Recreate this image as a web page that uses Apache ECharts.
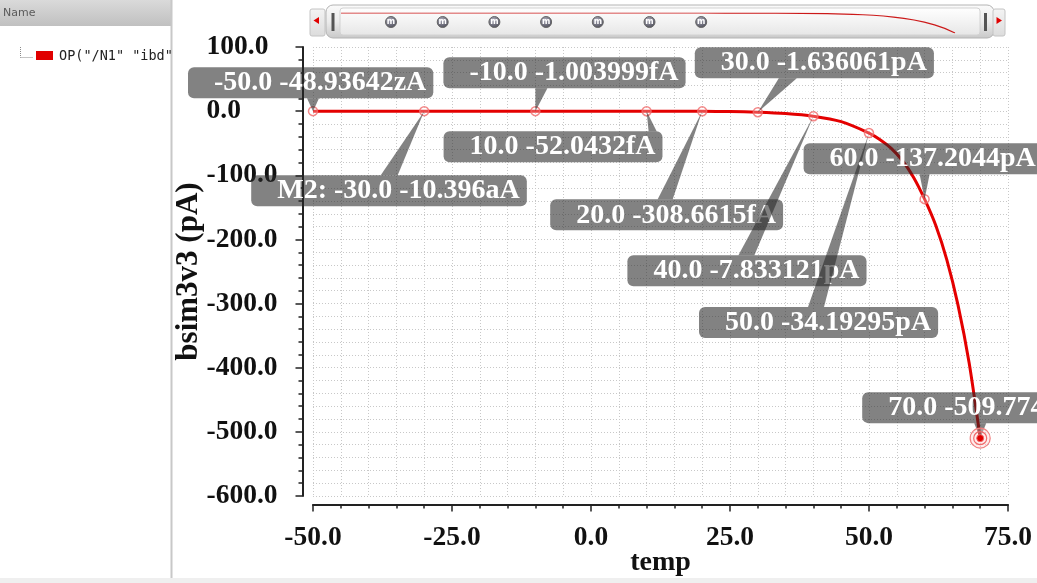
<!DOCTYPE html>
<html>
<head>
<meta charset="utf-8">
<script src="https://cdn.jsdelivr.net/npm/echarts@6.0.0/dist/echarts.min.js"></script>
<style>
html,body{margin:0;padding:0;background:#fff;}
#chart{width:1037px;height:583px;}
</style>
</head>
<body>
<div id="chart"></div>
<script>
// ---- data (temp in degC, current in pA) ----
const sweepTemps  = [-50,-40,-30,-20,-10,0,10,20,25,30,35,40,45,50,52,54,56,58,60,62,64,66,68,70];
const sweepValues = [-4.9e-8,-7e-7,-1.04e-5,-1.1e-4,-1.004e-3,-8e-3,-0.052,-0.309,-0.72,-1.636,-3.6,-7.833,-16.4,-34.19,-44.5,-58,-77,-103,-137.2,-178,-232,-302,-392,-509.77];

const markerTemps  = [-50,-30,-10,10,20,30,40,50,60,70];
const markerValues = [-4.893642e-8,-1.0396e-5,-1.003999e-3,-0.0520432,-0.3086615,-1.636061,-7.833121,-34.19295,-137.2044,-509.774];
const markerTexts  = ["-50.0 -48.93642zA","M2: -30.0 -10.396aA","-10.0 -1.003999fA","10.0 -52.0432fA","20.0 -308.6615fA","30.0 -1.636061pA","40.0 -7.833121pA","50.0 -34.19295pA","60.0 -137.2044pA","70.0 -509.774"];

const xTickLabels = ["-50.0","-25.0","0.0","25.0","50.0","75.0"];
const yTickLabels = ["-600.0","-500.0","-400.0","-300.0","-200.0","-100.0","0.0","100.0"];
const legendName = 'OP("/N1" "ibd"';
const xName = "temp";
const yName = "bsim3v3 (pA)";

// ---- label layout (pixel offsets of each callout box relative to its point) ----
const calloutLayout = [
  {dx:-125, dy:-44, edge:'bottom', bx:0,   bw:12},
  {dx:-173, dy:64,  edge:'top',    bx:-35, bw:17},
  {dx:-92,  dy:-54, edge:'bottom', bx:6,   bw:12},
  {dx:-203, dy:20,  edge:'top',    bx:6,   bw:8},
  {dx:-152, dy:88,  edge:'top',    bx:-37, bw:15},
  {dx:-63,  dy:-65, edge:'bottom', bx:30,  bw:18},
  {dx:-186, dy:139, edge:'top',    bx:-67, bw:16},
  {dx:-170, dy:174, edge:'top',    bx:-53, bw:16},
  {dx:-121, dy:-56, edge:'bottom', bx:0,   bw:10},
  {dx:-118, dy:-46, edge:'bottom', bx:0,   bw:12}
];

const SERIF = '"Liberation Serif","Times New Roman",serif';
const BOX = 'rgba(40,40,40,0.58)';
const BOXH = 31;

const chart = echarts.init(document.getElementById('chart'), null, {renderer:'canvas'});

const grad = (stops) => new echarts.graphic.LinearGradient(0,0,0,1, stops.map((c,i)=>({offset:i/(stops.length-1), color:c})));

const graphics = [
  // left panel
  {type:'rect', shape:{x:0,y:0,width:171,height:26}, style:{fill:grad(['#dadada','#c0c0c0'])}, silent:true},
  {type:'text', x:3, y:13, style:{text:'Name', font:'11px "DejaVu Sans"', fill:'#5a5a5a', verticalAlign:'middle'}, silent:true},
  {type:'line', shape:{x1:171.5,y1:0,x2:171.5,y2:578}, style:{stroke:'#c8c8c8', lineWidth:2}, silent:true},
  {type:'line', shape:{x1:20.5,y1:47,x2:20.5,y2:57.5}, style:{stroke:'#8a8a8a', lineWidth:1, lineDash:[1,1]}, silent:true},
  {type:'line', shape:{x1:20.5,y1:57.5,x2:33,y2:57.5}, style:{stroke:'#8a8a8a', lineWidth:1, lineDash:[1,1]}, silent:true},
  {type:'rect', shape:{x:36,y:51,width:17,height:9}, style:{fill:'#e00000'}, silent:true},
  {type:'text', x:59, y:56, style:{text:legendName, font:'13.5px "DejaVu Sans Mono"', fill:'#222', verticalAlign:'middle'}, silent:true},
  // bottom strip
  {type:'rect', shape:{x:0,y:578,width:1037,height:5}, style:{fill:'#efefef'}, silent:true},
  // slider
  {type:'rect', shape:{x:310,y:9,width:15,height:27,r:2}, style:{fill:grad(['#f4f4f4','#dcdcdc']), stroke:'#c4c4c4'}, silent:true},
  {type:'polygon', shape:{points:[[313.5,20.5],[319,17],[319,24]]}, style:{fill:'#e00000'}, silent:true},
  {type:'rect', shape:{x:326,y:5,width:668,height:33,r:7}, style:{fill:grad(['#fbfbfb','#ececec','#c8c8c8']), stroke:'#b4b4b4'}, silent:true},
  {type:'rect', shape:{x:340,y:8,width:640,height:27,r:3}, style:{fill:grad(['#ffffff','#f3f3f3','#e6e6e6']), stroke:'#d2d2d2'}, silent:true},
  {type:'rect', shape:{x:331.5,y:13,width:3,height:18}, style:{fill:'#555'}, silent:true},
  {type:'rect', shape:{x:984,y:13,width:3,height:18}, style:{fill:'#555'}, silent:true},
  {type:'rect', shape:{x:993,y:9,width:12,height:27,r:2}, style:{fill:grad(['#f4f4f4','#dcdcdc']), stroke:'#c4c4c4'}, silent:true},
  {type:'polygon', shape:{points:[[1002,20.5],[996.5,17],[996.5,24]]}, style:{fill:'#e00000'}, silent:true}
];
for (let k = 0; k < 7; k++) {
  const cx = 391 + 51.7 * k;
  graphics.push({type:'circle', shape:{cx:cx, cy:22, r:5.5}, style:{fill:new echarts.graphic.RadialGradient(0.4,0.3,0.8,[{offset:0,color:'#a8a8b8'},{offset:1,color:'#44444f'}]), stroke:'#666'}, silent:true});
  graphics.push({type:'text', x:cx, y:21.5, style:{text:'m', font:'bold 8px "DejaVu Sans"', fill:'#fff', align:'center', verticalAlign:'middle'}, silent:true});
}

const gridLineStyle = {color:'#c8c8c8', type:[1,2], width:1};
const axisColor = '#222';

const option = {
  animation:false,
  backgroundColor:'#fff',
  graphic: graphics,
  grid: [
    {left:313, top:47, width:695, height:449, containLabel:false, outerBoundsMode:'none'},
    {left:341, top:13, width:614, height:20, containLabel:false, outerBoundsMode:'none'}
  ],
  xAxis: [
    {
      type:'value', gridIndex:0, min:-50, max:75, interval:25, offset:8.5,
      name:xName, nameLocation:'middle', nameGap:44, nameMoveOverlap:false,
      nameTextStyle:{fontFamily:SERIF, fontWeight:'bold', fontSize:28, color:'#111'},
      axisLine:{show:true, onZero:false, lineStyle:{color:axisColor, width:2}},
      axisTick:{show:true, length:7, lineStyle:{color:axisColor, width:1.5}},
      minorTick:{show:true, splitNumber:5, length:4, lineStyle:{color:axisColor, width:1.5}},
      axisLabel:{margin:19, fontFamily:SERIF, fontWeight:'bold', fontSize:27.5, color:'#111',
        formatter:(v)=>xTickLabels[Math.round((v+50)/25)]},
      splitLine:{show:true, lineStyle:gridLineStyle},
      minorSplitLine:{show:true, lineStyle:gridLineStyle}
    },
    {type:'value', gridIndex:1, min:-50, max:70, show:false}
  ],
  yAxis: [
    {
      type:'value', gridIndex:0, min:-600, max:100, interval:100, offset:10.5,
      name:yName, nameLocation:'middle', nameGap:98, nameMoveOverlap:false,
      nameTextStyle:{fontFamily:SERIF, fontWeight:'bold', fontSize:31, color:'#111'},
      axisLine:{show:true, onZero:false, lineStyle:{color:axisColor, width:2}},
      axisTick:{show:true, length:7, lineStyle:{color:axisColor, width:1.5}},
      minorTick:{show:true, splitNumber:5, length:4, lineStyle:{color:axisColor, width:1.5}},
      axisLabel:{margin:96, align:'left', fontFamily:SERIF, fontWeight:'bold', fontSize:27.5, color:'#111',
        formatter:(v)=>yTickLabels[Math.round((v+600)/100)]},
      splitLine:{show:true, lineStyle:gridLineStyle},
      minorSplitLine:{show:true, lineStyle:gridLineStyle}
    },
    {type:'value', gridIndex:1, min:-510, max:0, show:false}
  ],
  series: [
    {
      type:'line', xAxisIndex:0, yAxisIndex:0, z:3,
      data: sweepTemps.map((t,i)=>[t, sweepValues[i]]),
      showSymbol:false, symbol:'none', smooth:0.25,
      lineStyle:{color:'#e40000', width:3}, silent:true
    },
    {
      type:'line', xAxisIndex:1, yAxisIndex:1, z:3,
      data: sweepTemps.map((t,i)=>[t, sweepValues[i]]),
      showSymbol:false, symbol:'none',
      lineStyle:{color:'#cc1a1a', width:1.2}, silent:true
    },
    {
      type:'scatter', xAxisIndex:0, yAxisIndex:0, z:4,
      data: markerTemps.slice(0,9).map((t,i)=>[t, markerValues[i]]),
      symbol:'circle', symbolSize:9,
      itemStyle:{color:'rgba(255,255,255,0.35)', borderColor:'#f06a6a', borderWidth:1.5}, silent:true
    },
    {
      type:'custom', xAxisIndex:0, yAxisIndex:0, z:5, clip:false, silent:true,
      data: markerTemps.map((t,i)=>[t, markerValues[i]]),
      renderItem: function(params, api) {
        const i = params.dataIndex;
        const p = api.coord([api.value(0), api.value(1)]);
        const L = calloutLayout[i];
        const bx0 = p[0] + L.dx, by0 = p[1] + L.dy;
        const baseY = L.edge === 'top' ? by0 : by0 + BOXH;
        const cx = p[0] + L.bx;
        const children = [
          {type:'polygon', shape:{points:[[cx - L.bw/2, baseY],[cx + L.bw/2, baseY],[p[0], p[1]]]}, style:{fill:BOX}},
          {type:'text', x:bx0, y:by0, style:{
            text: markerTexts[i], font:'bold 28px ' + SERIF, fill:'#fff',
            backgroundColor:BOX, borderRadius:6, padding:[1,7,0,26], lineHeight:30,
            align:'left', verticalAlign:'top'}}
        ];
        if (i === markerTemps.length - 1) {
          children.push({type:'circle', shape:{cx:p[0], cy:p[1], r:10}, style:{fill:'rgba(255,200,200,0.35)', stroke:'#f08080', lineWidth:1.2}});
          children.push({type:'circle', shape:{cx:p[0], cy:p[1], r:6.5}, style:{fill:'none', stroke:'#f06a6a', lineWidth:1.2}});
          children.push({type:'circle', shape:{cx:p[0], cy:p[1], r:3.5}, style:{fill:'#e00000', stroke:'#f06a6a', lineWidth:1}});
        }
        return {type:'group', children: children};
      }
    }
  ]
};
chart.setOption(option);
</script>
</body>
</html>
